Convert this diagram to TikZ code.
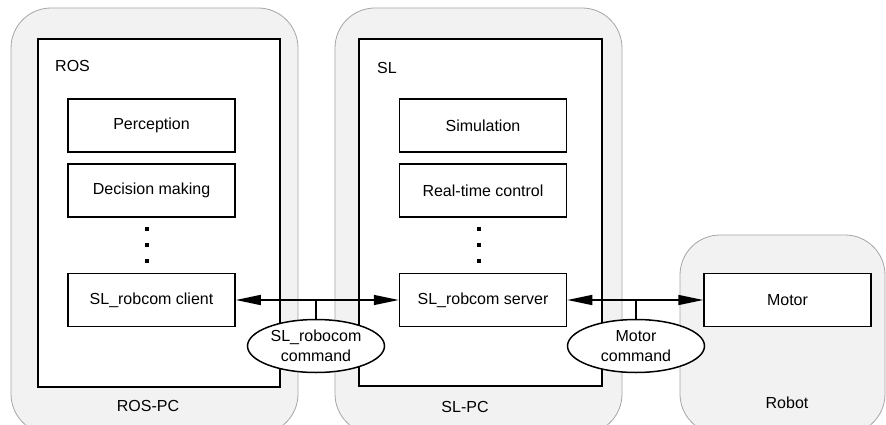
\documentclass[tikz,border=0pt]{standalone}
\usepackage{fontspec}
\setmainfont{Liberation Sans}
\usetikzlibrary{shapes.geometric,arrows.meta}
\tikzset{
  pcbox/.style={draw=black!35,fill=black!5,rounded corners=40pt,line width=0.8pt},
  swbox/.style={draw,fill=white,line width=1.5pt},
  block/.style={draw,fill=white,line width=1.5pt,minimum width=167pt,minimum height=53pt,inner sep=0pt},
  msg/.style={ellipse,draw,fill=white,line width=1.5pt,minimum width=137pt,minimum height=53pt,inner sep=0pt,align=center},
  link/.style={line width=1.5pt,{Triangle[length=25pt,width=10pt]}-{Triangle[length=25pt,width=10pt]}}
}
\begin{document}
\begin{tikzpicture}[x=1pt,y=-1pt,font=\fontsize{16}{20}\selectfont]
\def\rospc{(11,8) rectangle (298,434)}
\def\slpc{(335,8) rectangle (622,434)}
\def\robotpc{(680,235) rectangle (885,434)}

\useasboundingbox (0,0) rectangle (886,425);
\clip (0,0) rectangle (886,425);

% machines
\fill[white] (0,0) rectangle (886,425);
\draw[pcbox] \rospc;
\draw[pcbox] \slpc;
\draw[pcbox] \robotpc;
\node (rospclabel) at (148,406) {ROS-PC};
\node (slpclabel) at (465,407) {SL-PC};
\node (robotlabel) at (787,403) {Robot};

% software on the PCs
\draw[swbox] (38,39) rectangle (280,387);
\draw[swbox] (359,39) rectangle (602,386);
\node[anchor=west,inner sep=0pt] (roslabel) at (55,66) {ROS};
\node[anchor=west,inner sep=0pt] (sllabel) at (377,68) {SL};

\node[block] (perception) at (151.5,125.5) {Perception};
\node[block] (decision) at (151.5,190.5) {Decision making};
\node[block] (client) at (151.5,300) {SL\_robcom client};

\node[block] (simulation) at (483,125.5) {Simulation};
\node[block] (realtime) at (483,190.5) {Real-time control};
\node[block] (server) at (483,300) {SL\_robcom server};

\node[block] (motor) at (787.5,300) {Motor};

\foreach \y in {229,245,261} {
  \fill (145,\y-2) rectangle ++(4,4);
  \fill (477,\y-2) rectangle ++(4,4);
}

% messages
\draw[link] (client.east) -- (server.west);
\draw[link] (server.east) -- (motor.west);
\node[msg] (robcomcmd) at (316,346) {SL\_robocom\\command};
\node[msg] (motorcmd) at (636,346) {Motor\\command};
\draw[line width=1.5pt] (robcomcmd.north) -- (robcomcmd.north |- client.east);
\draw[line width=1.5pt] (motorcmd.north) -- (motorcmd.north |- server.east);
\end{tikzpicture}
\end{document}
